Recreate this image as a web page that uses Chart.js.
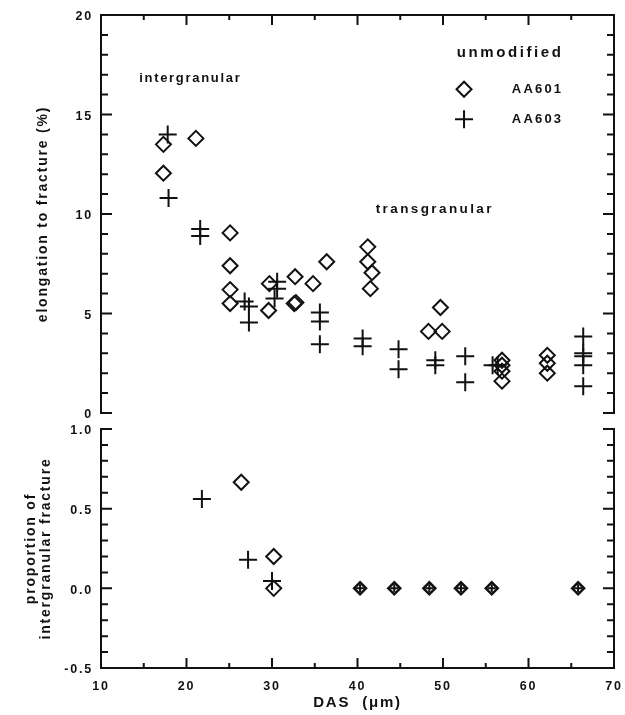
<!DOCTYPE html>
<html>
<head>
<meta charset="utf-8">
<script src="https://cdn.jsdelivr.net/npm/chart.js@4.4.1/dist/chart.umd.min.js"></script>
<style>
  html, body { margin: 0; padding: 0; background: #fff; }
  #wrap { position: relative; width: 625px; height: 715px; overflow: hidden; }
  #topChart { position: absolute; left: 0; top: 0; }
  #botChart { position: absolute; left: 0; top: 420px; }
</style>
</head>
<body>
<div id="wrap">
  <canvas id="topChart" width="625" height="420"></canvas>
  <canvas id="botChart" width="625" height="295"></canvas>
</div>
<script>
// ---------------- DATA ----------------
const SERIES_NAMES = ['AA601', 'AA603'];
const LEGEND_TITLE = 'unmodified';
const NOTE_TEXTS = ['intergranular', 'transgranular'];
const X_TITLE = 'DAS  (\u03bcm)';
const Y_TITLE_TOP = 'elongation to fracture (%)';
const Y_TITLE_BOT = ['proportion of', 'intergranular fracture'];

const X_MIN = 10, X_MAX = 70, X_STEP = 10;
const Y_TOP_MIN = 0, Y_TOP_MAX = 20, Y_TOP_STEP = 5;
const Y_BOT_MIN = -0.5, Y_BOT_MAX = 1.0, Y_BOT_STEP = 0.5;

// top panel: elongation to fracture (%)
const AA601_DAS = [17.3, 17.3, 21.1, 25.1, 25.1, 25.1, 25.1, 29.6, 29.7, 32.6, 32.8, 32.7, 34.8, 36.4,
                   41.2, 41.2, 41.7, 41.5, 48.3, 49.9, 49.7, 56.9, 56.9, 56.9, 56.9, 62.2, 62.2, 62.2];
const AA601_ELONG = [13.5, 12.05, 13.8, 9.05, 7.4, 6.2, 5.5, 5.15, 6.5, 5.5, 5.55, 6.85, 6.5, 7.6,
                     8.35, 7.6, 7.05, 6.25, 4.1, 4.1, 5.3, 2.65, 2.4, 2.1, 1.6, 2.9, 2.5, 2.0];
const AA603_DAS = [17.8, 17.9, 21.6, 21.6, 26.8, 27.3, 27.3, 30.6, 30.6, 30.3, 35.6, 35.6, 35.6,
                   40.6, 40.6, 44.8, 44.8, 49.1, 49.1, 52.6, 52.6, 55.8, 56.4, 66.4, 66.4, 66.4, 66.4, 66.4];
const AA603_ELONG = [14.0, 10.8, 9.25, 8.9, 5.6, 5.35, 4.55, 6.6, 6.25, 5.75, 5.05, 4.6, 3.45,
                     3.75, 3.35, 3.2, 2.2, 2.65, 2.4, 2.85, 1.55, 2.4, 2.4, 3.85, 3.0, 2.85, 2.4, 1.35];

// bottom panel: proportion of intergranular fracture
const AA601_DAS_P = [26.4, 30.2, 30.2, 40.3, 44.3, 48.4, 52.1, 55.7, 65.8];
const AA601_PROP  = [0.666, 0.2, 0.0, 0, 0, 0, 0, 0, 0];
const AA603_DAS_P = [21.8, 27.2, 30.0, 40.3, 44.3, 48.4, 52.1, 55.7, 65.8];
const AA603_PROP  = [0.56, 0.18, 0.046, 0, 0, 0, 0, 0, 0];

// ---------------- STYLE ----------------
const INK = '#111';
const FONT = "'Liberation Sans', Arial, Helvetica, sans-serif";
Chart.defaults.font.family = FONT;
Chart.defaults.font.weight = 'bold';
Chart.defaults.color = INK;

const zip = (xs, ys) => xs.map((x, i) => ({ x: x, y: ys[i] }));

function coincident(ctx) {
  const p = ctx.raw;
  if (!p) return false;
  return ctx.chart.data.datasets.some((d, i) => i !== ctx.datasetIndex &&
    d.data.some(q => q.x === p.x && q.y === p.y));
}

function diamondSet(label, data) {
  return {
    label, data,
    pointStyle: 'rectRot',
    pointRadius: c => coincident(c) ? 6 : 7.5,
    pointBorderWidth: c => coincident(c) ? 2.5 : 2,
    borderColor: INK, backgroundColor: 'rgba(0,0,0,0)',
    pointBackgroundColor: 'rgba(0,0,0,0)', pointBorderColor: INK,
    showLine: false
  };
}
function crossSet(label, data) {
  return {
    label, data,
    pointStyle: 'cross',
    pointRadius: c => coincident(c) ? 4 : 9,
    pointBorderWidth: 2,
    borderColor: INK, backgroundColor: INK,
    pointBorderColor: INK,
    showLine: false
  };
}

function framePlugin(xEdge, yMinor, yMajor) {
  return {
    id: 'frame',
    beforeDraw(chart) { chart.ctx.letterSpacing = '1.8px'; },
    beforeDatasetsDraw(chart) {
      const { ctx, chartArea: a, scales: { x, y } } = chart;
      ctx.save();
      ctx.strokeStyle = INK;
      ctx.lineWidth = 2;
      ctx.lineCap = 'square';
      ctx.beginPath();
      if (xEdge === 'top') {
        ctx.moveTo(a.left, a.bottom); ctx.lineTo(a.left, a.top);
        ctx.lineTo(a.right, a.top); ctx.lineTo(a.right, a.bottom);
      } else {
        ctx.moveTo(a.left, a.top); ctx.lineTo(a.left, a.bottom);
        ctx.lineTo(a.right, a.bottom); ctx.lineTo(a.right, a.top);
      }
      ctx.stroke();
      ctx.lineCap = 'butt';
      ctx.beginPath();
      const n = Math.round((y.max - y.min) / yMinor);
      for (let i = 0; i <= n; i++) {
        const v = y.min + i * yMinor;
        const r = v / yMajor;
        const major = Math.abs(r - Math.round(r)) < 1e-6;
        const L = major ? 11 : 7;
        const py = y.getPixelForValue(v);
        ctx.moveTo(a.left, py); ctx.lineTo(a.left + L, py);
        ctx.moveTo(a.right, py); ctx.lineTo(a.right - L, py);
      }
      const ey = xEdge === 'top' ? a.top : a.bottom;
      const dir = xEdge === 'top' ? 1 : -1;
      for (let v = x.min + 5; v < x.max; v += 5) {
        const L = (v % 10 === 0) ? 10 : 5;
        const px = x.getPixelForValue(v);
        ctx.moveTo(px, ey); ctx.lineTo(px, ey + dir * L);
      }
      ctx.stroke();
      ctx.restore();
    }
  };
}

function drawText(ctx, txt, x, y, size, spacing, align) {
  ctx.font = 'bold ' + size + 'px ' + FONT;
  ctx.letterSpacing = spacing + 'px';
  ctx.textAlign = align;
  ctx.textBaseline = 'middle';
  ctx.fillText(txt, align === 'center' ? x + spacing / 2 : x, y);
}

// annotation positions (data coordinates)
const NOTE_POS = [[20.35, 16.83], [48.9, 10.23]];
const LEGEND_TITLE_POS = [57.7, 18.1];
const LEGEND_MARK_X = 52.46, LEGEND_TEXT_X = 58.05;
const LEGEND_ROWS_Y = [16.27, 14.76];

const notesPlugin = {
  id: 'notes',
  afterDatasetsDraw(chart) {
    const { ctx, scales: { x, y } } = chart;
    ctx.save();
    ctx.fillStyle = INK;
    drawText(ctx, NOTE_TEXTS[0], x.getPixelForValue(NOTE_POS[0][0]), y.getPixelForValue(NOTE_POS[0][1]), 13, 1.7, 'center');
    drawText(ctx, NOTE_TEXTS[1], x.getPixelForValue(NOTE_POS[1][0]), y.getPixelForValue(NOTE_POS[1][1]), 13.5, 2.4, 'center');
    drawText(ctx, LEGEND_TITLE, x.getPixelForValue(LEGEND_TITLE_POS[0]), y.getPixelForValue(LEGEND_TITLE_POS[1]), 15, 2.6, 'center');
    const mx = x.getPixelForValue(LEGEND_MARK_X);
    const tx = x.getPixelForValue(LEGEND_TEXT_X);
    const y1 = y.getPixelForValue(LEGEND_ROWS_Y[0]);
    const y2 = y.getPixelForValue(LEGEND_ROWS_Y[1]);
    drawText(ctx, SERIES_NAMES[0], tx, y1, 13, 2.2, 'left');
    drawText(ctx, SERIES_NAMES[1], tx, y2, 13, 2.2, 'left');
    ctx.strokeStyle = INK;
    ctx.lineWidth = 2;
    const r = 7.5;
    ctx.beginPath();
    ctx.moveTo(mx - r, y1); ctx.lineTo(mx, y1 - r); ctx.lineTo(mx + r, y1); ctx.lineTo(mx, y1 + r); ctx.closePath();
    ctx.stroke();
    const c = 9;
    ctx.beginPath();
    ctx.moveTo(mx - c, y2); ctx.lineTo(mx + c, y2);
    ctx.moveTo(mx, y2 - c); ctx.lineTo(mx, y2 + c);
    ctx.stroke();
    ctx.restore();
  }
};

const tickFont = { family: FONT, size: 12.5, weight: 'bold' };
const titleFont = { family: FONT, size: 14, weight: 'bold', lineHeight: 1.05 };

// ---------------- TOP CHART ----------------
new Chart(document.getElementById('topChart'), {
  type: 'scatter',
  data: { datasets: [diamondSet(SERIES_NAMES[0], zip(AA601_DAS, AA601_ELONG)),
                     crossSet(SERIES_NAMES[1], zip(AA603_DAS, AA603_ELONG))] },
  options: {
    responsive: false, animation: false, events: [],
    layout: { autoPadding: false, padding: { top: 15, right: 11, bottom: 7, left: 0 } },
    plugins: { legend: { display: false }, tooltip: { enabled: false } },
    scales: {
      x: { type: 'linear', min: X_MIN, max: X_MAX, display: false },
      y: {
        type: 'linear', min: Y_TOP_MIN, max: Y_TOP_MAX,
        grid: { display: false, drawTicks: false }, border: { display: false },
        ticks: { stepSize: Y_TOP_STEP, padding: 8, labelOffset: 2, font: tickFont, color: INK },
        title: { display: true, text: Y_TITLE_TOP, font: titleFont, color: INK, padding: { top: 36, bottom: 0 } },
        afterFit(s) { s.width = 101; s.paddingTop = 0; s.paddingBottom = 0; }
      }
    }
  },
  plugins: [framePlugin('top', 1, 5), notesPlugin]
});

// ---------------- BOTTOM CHART ----------------
new Chart(document.getElementById('botChart'), {
  type: 'scatter',
  data: { datasets: [diamondSet(SERIES_NAMES[0], zip(AA601_DAS_P, AA601_PROP)),
                     crossSet(SERIES_NAMES[1], zip(AA603_DAS_P, AA603_PROP))] },
  options: {
    responsive: false, animation: false, events: [],
    layout: { autoPadding: false, padding: { top: 9, right: 11, bottom: 0, left: 0 } },
    plugins: { legend: { display: false }, tooltip: { enabled: false } },
    scales: {
      x: {
        type: 'linear', min: X_MIN, max: X_MAX,
        grid: { display: false, drawTicks: false }, border: { display: false },
        ticks: { stepSize: X_STEP, padding: 11, font: tickFont, color: INK, maxRotation: 0 },
        title: { display: true, text: X_TITLE, font: { family: FONT, size: 15, weight: 'bold', lineHeight: 1.05 }, color: INK, padding: { top: 0, bottom: 4 } },
        afterFit(s) { s.height = 47; s.paddingLeft = 0; s.paddingRight = 0; }
      },
      y: {
        type: 'linear', min: Y_BOT_MIN, max: Y_BOT_MAX,
        grid: { display: false, drawTicks: false }, border: { display: false },
        ticks: { stepSize: Y_BOT_STEP, padding: 8, labelOffset: 2, font: tickFont, color: INK, callback: v => Number(v).toFixed(1) },
        title: { display: true, text: Y_TITLE_BOT, font: titleFont, color: INK, padding: { top: 24, bottom: 0 } },
        afterFit(s) { s.width = 101; s.paddingTop = 0; s.paddingBottom = 0; }
      }
    }
  },
  plugins: [framePlugin('bottom', 0.1, 0.5)]
});
</script>
</body>
</html>
